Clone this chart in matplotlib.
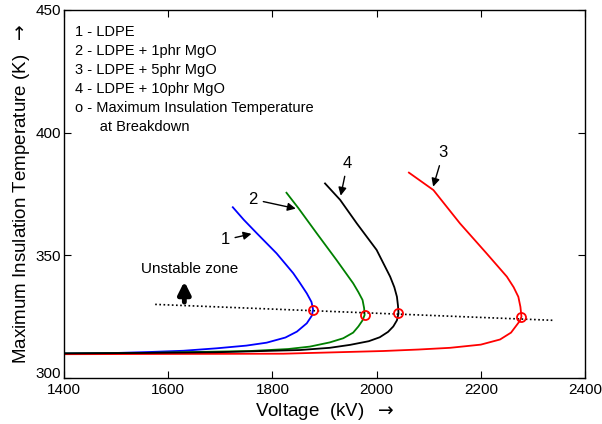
import matplotlib
matplotlib.use("Agg")
import matplotlib.pyplot as plt
import matplotlib.transforms as mtransforms

plt.rcParams["font.family"] = ["Liberation Sans", "DejaVu Sans"]

# curves: voltage (kV) and max insulation temperature (K)
v_ldpe = [1400, 1500, 1565, 1629, 1693, 1750, 1789, 1825, 1847, 1866, 1876, 1878, 1875, 1866, 1852, 1840, 1808, 1770, 1745, 1724]
t_ldpe = [310.0, 310.2, 310.6, 311.1, 312.1, 313.2, 314.4, 316.5, 318.9, 322.3, 325.5, 328.0, 331.0, 334.5, 339.0, 342.7, 350.8, 359.0, 364.5, 369.6]

v_1phr = [1400, 1550, 1629, 1757, 1830, 1872, 1910, 1936, 1955, 1965, 1973, 1977, 1976, 1973, 1965, 1955, 1923, 1885, 1850, 1827]
t_1phr = [310.0, 310.2, 310.5, 311.0, 311.8, 312.8, 314.5, 316.2, 318.5, 321.0, 323.5, 325.7, 328.5, 331.8, 335.0, 338.6, 348.1, 359.0, 369.2, 375.5]

v_5phr = [1400, 1600, 1821, 2013, 2080, 2141, 2200, 2237, 2258, 2269, 2275, 2278, 2276, 2272, 2263, 2250, 2211, 2160, 2109, 2062]
t_5phr = [309.7, 309.8, 309.9, 311.0, 311.6, 312.3, 313.6, 315.7, 318.5, 321.6, 323.3, 325.0, 329.0, 333.1, 337.0, 341.3, 350.8, 363.0, 376.6, 383.7]

v_10phr = [1400, 1550, 1693, 1853, 1910, 1949, 1985, 2006, 2022, 2032, 2039, 2042, 2041, 2039, 2034, 2026, 2000, 1962, 1930, 1901]
t_10phr = [310.0, 310.2, 310.5, 311.4, 312.3, 313.5, 315.0, 316.6, 318.8, 321.0, 323.5, 326.3, 329.5, 333.1, 337.0, 341.3, 352.2, 363.0, 372.6, 379.3]

# breakdown points (red circles)
v_break = [1878, 1978, 2042, 2278]
t_break = [327.7, 325.7, 326.3, 325.0]

# stability boundary (dotted line)
v_bound = [1575, 2340]
t_bound = [330.0, 323.5]

legend_lines = [
    "1 - LDPE",
    "2 - LDPE + 1phr MgO",
    "3 - LDPE + 5phr MgO",
    "4 - LDPE + 10phr MgO",
    "o - Maximum Insulation Temperature",
    "      at Breakdown",
]

fig = plt.figure(figsize=(6.02, 4.24), dpi=100)
ax = fig.add_axes([0.1063, 0.1085, 0.8655, 0.868])

ax.plot(v_ldpe, t_ldpe, color="#0000ff", lw=1.3)
ax.plot(v_1phr, t_1phr, color="#008000", lw=1.3)
ax.plot(v_5phr, t_5phr, color="#ff0000", lw=1.3)
ax.plot(v_10phr, t_10phr, color="black", lw=1.3)
ax.plot(v_bound, t_bound, color="black", lw=1.2, ls=(0, (1, 1.5)))
ax.plot(v_break, t_break, "o", mfc="none", mec="#ff0000", ms=6.5, mew=1.3)

ax.set_xlim(1400, 2400)
ax.set_ylim(300, 450)
ax.set_xticks([1400, 1600, 1800, 2000, 2200, 2400])
ax.set_yticks([300, 350, 400, 450])
ax.tick_params(direction="in", length=5, top=True, right=True, labelsize=11)
ax.tick_params(axis="y", pad=2)
for s in ax.spines.values():
    s.set_linewidth(1.0)

# nudge the "300" label up a little so it clears "1400"
fig.canvas.draw()
lbl = ax.get_yticklabels()[0]
lbl.set_transform(lbl.get_transform() +
                  mtransforms.ScaledTranslation(0, 4 / 72, fig.dpi_scale_trans))

ax.set_xlabel(r"Voltage  (kV)  $\rightarrow$", fontsize=13.5, labelpad=3)
ax.set_ylabel(r"Maximum Insulation Temperature (K)  $\rightarrow$",
              fontsize=13.5, labelpad=3)

for i, line in enumerate(legend_lines):
    ax.text(0.021, 0.94 - i * 0.0515, line, transform=ax.transAxes,
            fontsize=10.5, va="center", ha="left")

# curve labels with arrows
arrow = dict(arrowstyle="-|>", color="black", lw=1.0, mutation_scale=12)
ax.annotate("1", xy=(1765, 359.0), xytext=(1709, 356.3), fontsize=12,
            ha="center", va="center", arrowprops=arrow)
ax.annotate("2", xy=(1850, 368.8), xytext=(1763, 372.8), fontsize=12,
            ha="center", va="center", arrowprops=arrow)
ax.annotate("4", xy=(1930, 373.2), xytext=(1944, 387.5), fontsize=12,
            ha="center", va="center", arrowprops=arrow)
ax.annotate("3", xy=(2107, 376.9), xytext=(2128, 391.8), fontsize=12,
            ha="center", va="center", arrowprops=arrow)

ax.text(1642, 344.4, "Unstable zone", fontsize=11, ha="center", va="center")
ax.annotate("", xy=(1631, 340.5), xytext=(1631, 329.8),
            arrowprops=dict(arrowstyle="-|>", color="black", lw=3.5,
                            mutation_scale=18))

fig.savefig("out.png", dpi=100)
